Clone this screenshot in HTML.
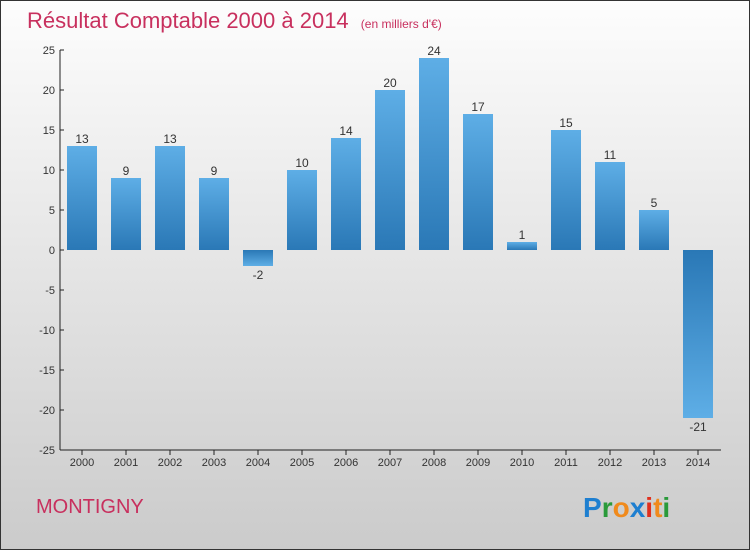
<!DOCTYPE html>
<html><head><meta charset="utf-8"><style>
body{margin:0;width:750px;height:550px;overflow:hidden;font-family:"Liberation Sans",sans-serif}
</style></head><body>
<svg width="750" height="550" xmlns="http://www.w3.org/2000/svg">
<defs>
<linearGradient id="bg" x1="0" y1="0" x2="0" y2="1"><stop offset="0" stop-color="#fdfdfd"/><stop offset="1" stop-color="#cbcbcb"/></linearGradient>
<linearGradient id="gp" x1="0" y1="0" x2="0" y2="1"><stop offset="0" stop-color="#5eaee6"/><stop offset="1" stop-color="#2a78b6"/></linearGradient>
<linearGradient id="gn" x1="0" y1="0" x2="0" y2="1"><stop offset="0" stop-color="#2a78b6"/><stop offset="1" stop-color="#5eaee6"/></linearGradient>
</defs>
<rect x="0.5" y="0.5" width="749" height="549" fill="url(#bg)" stroke="#333"/>
<text x="27" y="28" font-size="22" fill="#c8305e">Résultat Comptable 2000 à 2014 <tspan font-size="12" dx="6">(en milliers d'€)</tspan></text>
<g id="axes"></g>
<g id="bars"></g>
<text x="36" y="513" font-size="20" fill="#c8305e">MONTIGNY</text>
<g font-size="28" font-weight="bold" font-family="Liberation Sans, sans-serif">
<text x="583" y="517"><tspan fill="#1e7fd0">P</tspan><tspan fill="#2a9a3a">r</tspan><tspan fill="#f08a1c">o</tspan><tspan fill="#1e7fd0">x</tspan><tspan fill="#e0301e">i</tspan><tspan fill="#f08a1c">t</tspan><tspan fill="#2a9a3a">i</tspan></text>
</g>
</svg>
<script>
const years=["2000","2001","2002","2003","2004","2005","2006","2007","2008","2009","2010","2011","2012","2013","2014"];
const values=[13,9,13,9,-2,10,14,20,24,17,1,15,11,5,-21];
const yTicks=[25,20,15,10,5,0,-5,-10,-15,-20,-25];
const NS="http://www.w3.org/2000/svg";
const y=v=>250-v*8;
const x=i=>82+i*44;
const ax=document.getElementById('axes'),bg=document.getElementById('bars');
function mk(t,a,p){const e=document.createElementNS(NS,t);for(const k in a)e.setAttribute(k,a[k]);p.appendChild(e);return e;}
let l=mk('line',{x1:60,y1:50,x2:60,y2:450,stroke:'#222'},ax);


l=mk('line',{x1:60,y1:450,x2:721,y2:450,stroke:'#222'},ax);


yTicks.forEach(v=>{
 mk('line',{x1:60,y1:y(v),x2:64,y2:y(v),stroke:'#222'},ax);
 const t=mk('text',{x:55,y:y(v)+4,'text-anchor':'end','font-size':11,fill:'#333'},ax);
 t.textContent=v;
 
 
});
years.forEach((yr,i)=>{
 mk('line',{x1:x(i),y1:450,x2:x(i),y2:455,stroke:'#222'},ax);
 const t=mk('text',{x:x(i),y:466,'text-anchor':'middle','font-size':11,fill:'#333'},ax);
 t.textContent=yr;
 
 
 const v=values[i];
 const r=mk('rect',{x:x(i)-15,y:Math.min(y(v),y(0)),width:30,height:Math.abs(y(v)-y(0)),fill:v>=0?'url(#gp)':'url(#gn)'},bg);
 
 
 const lb=mk('text',{x:x(i),y:v>=0?y(v)-3:y(v)+13,'text-anchor':'middle','font-size':12,fill:'#333'},bg);
 lb.textContent=v;
 
 
});
</script>
</body></html>
